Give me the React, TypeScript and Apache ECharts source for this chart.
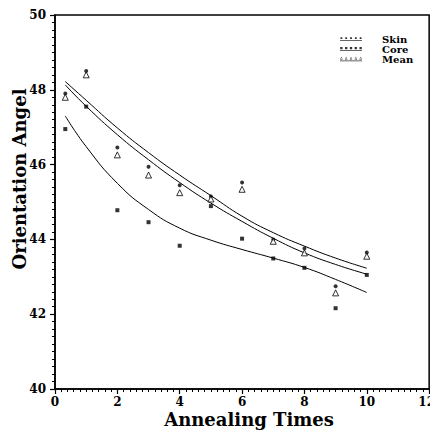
import React, { useEffect, useRef } from "react";
import * as echarts from "echarts";

const xValues = [0.33, 1, 2, 3, 4, 5, 6, 7, 8, 9, 10];
const skinValues = [47.9, 48.5, 46.46, 45.94, 45.45, 45.15, 45.52, 44.0, 43.76, 42.75, 43.65];
const coreValues = [46.95, 47.55, 44.78, 44.46, 43.83, 44.89, 44.02, 43.49, 43.24, 42.16, 43.05];
const meanValues = [47.8, 48.4, 46.26, 45.72, 45.25, 45.08, 45.34, 43.95, 43.64, 42.57, 43.55];

const fitX = [0.33, 1, 2, 3, 4, 5, 6, 7, 8, 9, 10];
const skinFit = [48.22, 47.72, 46.98, 46.32, 45.72, 45.17, 44.62, 44.18, 43.82, 43.5, 43.23];
const meanFit = [48.13, 47.56, 46.8, 46.13, 45.52, 44.97, 44.48, 44.03, 43.64, 43.33, 43.07];
const coreFit = [47.3, 46.48, 45.5, 44.8, 44.3, 43.98, 43.73, 43.5, 43.25, 42.93, 42.58];

const seriesNames = ["Skin", "Core", "Mean"];
const xTicks = { min: 0, max: 12, interval: 2 };
const yTicks = { min: 40, max: 50, interval: 2 };

const FONT = "'DejaVu Serif', 'Liberation Serif', serif";

const dotsIcon = (w: number) => {
  let d = "path://";
  for (let i = 0; i < 5; i++) {
    const x = i * 10.5 + (6 - w) / 2;
    d += `M${x},${6 - w}h${w}v${w}h-${w}z`;
  }
  d += "M0,8h48v2h-48z";
  return d;
};
const triIcon = () => {
  let d = "path://";
  for (let i = 0; i < 5; i++) {
    const x = i * 10.5;
    d += `M${x},6L${x + 3},0L${x + 6},6Z`;
    d += `M${x + 1.5},5L${x + 4.5},5L${x + 3},2Z`;
  }
  d += "M0,8h48v2h-48z";
  return d;
};

export default function App() {
  const ref = useRef<HTMLDivElement>(null);
  useEffect(() => {
    if (!ref.current) return;
    const chart = echarts.init(ref.current, null, { renderer: "svg" });
    const pts = (ys: number[]) => xValues.map((x, i) => [x, ys[i]]);
    const fit = (ys: number[]) => fitX.map((x, i) => [x, ys[i]]);
    const axisCommon = {
      axisLine: { show: true, lineStyle: { color: "#000", width: 1.5 } },
      axisTick: { show: true, inside: false, length: 5, lineStyle: { color: "#000", width: 1.2 } },
      minorTick: { show: true, splitNumber: 10, length: 3, lineStyle: { color: "#000", width: 1 } },
      splitLine: { show: false },
      axisLabel: { color: "#000", fontFamily: FONT, fontSize: 12, fontWeight: "bold" },
      nameTextStyle: { color: "#000", fontFamily: FONT, fontSize: 18, fontWeight: "bold" },
      nameMoveOverlap: false,
    };
    chart.setOption({
      animation: false,
      backgroundColor: "#fff",
      grid: {
        left: 55,
        right: 7,
        top: 15,
        bottom: 44,
        show: true,
        borderColor: "#000",
        borderWidth: 1.5,
        containLabel: false,
      },
      legend: {
        orient: "vertical",
        left: 335,
        top: 29,
        itemWidth: 22,
        itemHeight: 5,
        itemGap: 0,
        formatter: (name: string) => `{g|}{t|${name}}`,
        textStyle: {
          color: "#000",
          fontFamily: FONT,
          fontSize: 10,
          fontWeight: "bold",
          lineHeight: 10,
          rich: {
            g: { width: 15 },
            t: { fontFamily: FONT, fontSize: 10, fontWeight: "bold", color: "#000", lineHeight: 10 },
          },
        },
        data: [
          { name: seriesNames[0], icon: dotsIcon(4), itemStyle: { color: "#000", borderWidth: 0 } },
          { name: seriesNames[1], icon: dotsIcon(5), itemStyle: { color: "#000", borderWidth: 0 } },
          { name: seriesNames[2], icon: triIcon(), itemStyle: { color: "#000", borderWidth: 0 } },
        ],
      },
      xAxis: {
        type: "value",
        ...xTicks,
        ...axisCommon,
        axisLabel: {
          ...axisCommon.axisLabel,
          margin: 7,
          formatter: (v: number) => (v === xTicks.max ? `{e|${v}}` : `${v}`),
          rich: {
            e: { fontFamily: FONT, fontSize: 12, fontWeight: "bold", color: "#000", padding: [0, 5, 0, 0] },
          },
        },
        name: "Annealing Times",
        nameLocation: "middle",
        nameGap: 21,
        nameTextStyle: { ...axisCommon.nameTextStyle, padding: [0, 0, 0, 14] },
      },
      yAxis: {
        type: "value",
        ...yTicks,
        ...axisCommon,
        axisLabel: { ...axisCommon.axisLabel, margin: 9 },
        name: "Orientation Angel",
        nameLocation: "middle",
        nameGap: 27,
        nameTextStyle: { ...axisCommon.nameTextStyle, padding: [0, 0, 0, 46] },
      },
      series: [
        {
          name: seriesNames[0],
          type: "scatter",
          data: pts(skinValues),
          symbol: "circle",
          symbolSize: 4,
          itemStyle: { color: "#000" },
          z: 5,
        },
        {
          name: seriesNames[1],
          type: "scatter",
          data: pts(coreValues),
          symbol: "rect",
          symbolSize: 4,
          itemStyle: { color: "#000" },
          z: 5,
        },
        {
          name: seriesNames[2],
          type: "scatter",
          data: pts(meanValues),
          symbol: "triangle",
          symbolSize: 6,
          itemStyle: { color: "#fff", borderColor: "#000", borderWidth: 1 },
          z: 5,
        },
        {
          name: "skinFit",
          type: "line",
          data: fit(skinFit),
          smooth: true,
          showSymbol: false,
          lineStyle: { color: "#000", width: 1 },
        },
        {
          name: "meanFit",
          type: "line",
          data: fit(meanFit),
          smooth: true,
          showSymbol: false,
          lineStyle: { color: "#000", width: 1 },
        },
        {
          name: "coreFit",
          type: "line",
          data: fit(coreFit),
          smooth: true,
          showSymbol: false,
          lineStyle: { color: "#000", width: 1 },
        },
      ],
    });
    return () => chart.dispose();
  }, []);
  return <div ref={ref} style={{ width: 438, height: 433, marginLeft: -8, marginTop: -8 }} />;
}
